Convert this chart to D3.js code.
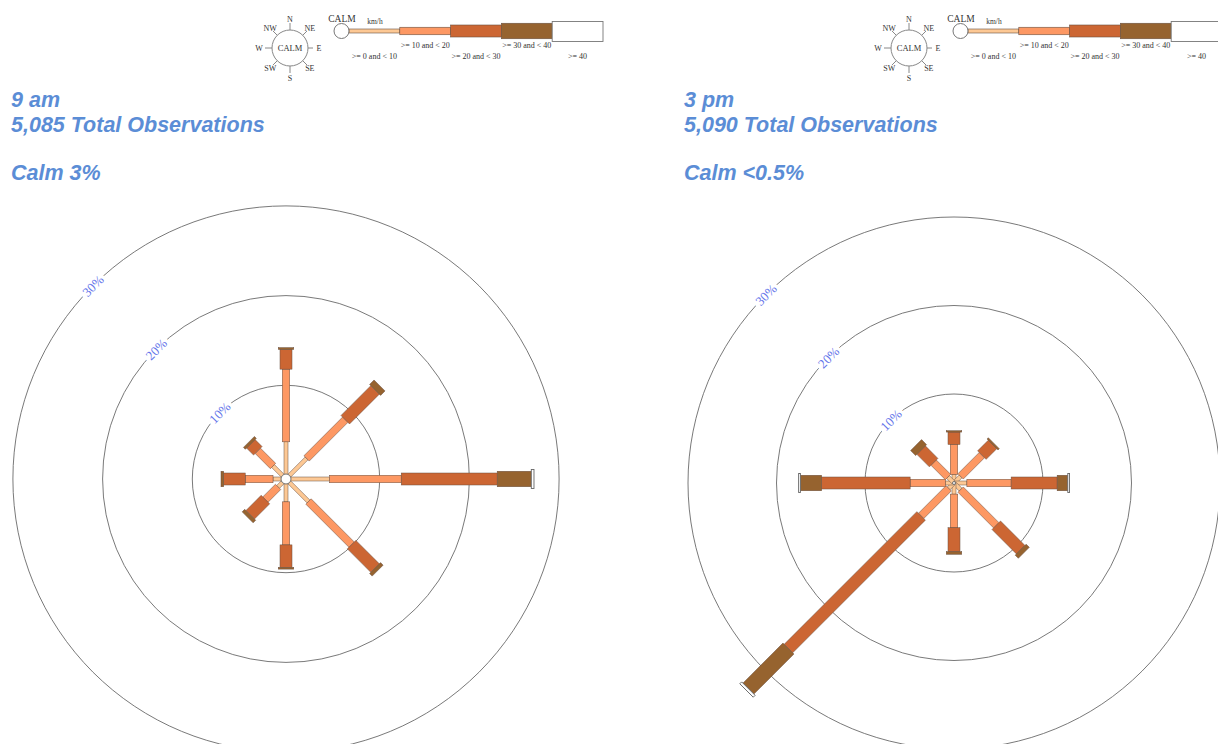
<!DOCTYPE html>
<html>
<head>
<meta charset="utf-8">
<script src="https://cdn.jsdelivr.net/npm/d3@7"></script>
<style>
  html, body { margin: 0; padding: 0; background: #ffffff; }
  svg { display: block; }
</style>
</head>
<body>
<div id="chart"></div>
<script>
// ---------------- DATA ----------------
const directions = ["N", "NE", "E", "SE", "S", "SW", "W", "NW"];
const directionAngles = [0, 45, 90, 135, 180, 225, 270, 315];
const speedBins = [">= 0 and < 10", ">= 10 and < 20", ">= 20 and < 30", ">= 30 and < 40", ">= 40"];
const speedColors = ["#fdc894", "#fd9863", "#cc6633", "#96632f", "#ffffff"];
const ringTicks = [10, 20, 30];
const ringLabels = ["10%", "20%", "30%"];

// 9 am (percent of observations, by direction N..NW)
const am9Speed0to10  = [3.7, 2.8, 4.4, 3.1, 2.1, 0.8, 1.0, 1.6];
const am9Speed10to20 = [8.1, 6.1, 8.0, 6.8, 4.8, 2.0, 3.1, 2.4];
const am9Speed20to30 = [2.2, 4.7, 10.7, 3.7, 2.5, 2.4, 2.4, 1.1];
const am9Speed30to40 = [0.2, 0.7, 3.8, 0.4, 0.2, 0.4, 0.3, 0.3];
const am9Speed40     = [0, 0, 0.3, 0, 0, 0, 0, 0];

// 3 pm
const pm3Speed0to10  = [0.9, 1.0, 1.4, 1.0, 1.2, 0.8, 0.9, 0.9];
const pm3Speed10to20 = [3.4, 3.4, 5.0, 5.7, 3.8, 4.4, 4.0, 2.3];
const pm3Speed20to30 = [1.4, 1.7, 5.2, 3.9, 2.7, 21.2, 10.0, 2.0];
const pm3Speed30to40 = [0.15, 0.2, 1.2, 0.5, 0.3, 6.4, 2.4, 0.8];
const pm3Speed40     = [0, 0, 0.2, 0, 0, 0.3, 0.2, 0];

const panelTitles = ["9 am", "3 pm"];
const panelTotals = ["5,085 Total Observations", "5,090 Total Observations"];
const panelCalm = ["Calm 3%", "Calm <0.5%"];

// ---------------- LAYOUT ----------------
const W = 1218, H = 744;
const svg = d3.select("#chart").append("svg")
  .attr("width", W).attr("height", H)
  .style("background", "#ffffff");

const barWidths = [4, 7.5, 12, 15.5, 19];
const panels = [
  { title: panelTitles[0], total: panelTotals[0], calm: panelCalm[0],
    bins: [am9Speed0to10, am9Speed10to20, am9Speed20to30, am9Speed30to40, am9Speed40],
    cx: 286, cy: 479, r0: 4, k: 8.97, calmR: 5,
    titleX: 11, legendX: 0 },
  { title: panelTitles[1], total: panelTotals[1], calm: panelCalm[1],
    bins: [pm3Speed0to10, pm3Speed10to20, pm3Speed20to30, pm3Speed30to40, pm3Speed40],
    cx: 954, cy: 483, r0: 0.5, k: 8.85, calmR: 1.5,
    titleX: 684, legendX: 619 }
];

const serif = "'Liberation Serif', 'Times New Roman', serif";
const sans = "'Liberation Sans', Arial, sans-serif";

function drawLegend(ox) {
  const g = svg.append("g").attr("transform", `translate(${ox},0)`);
  // compass
  const ccx = 290, ccy = 48, cr = 18;
  g.append("circle").attr("cx", ccx).attr("cy", ccy).attr("r", cr)
    .attr("fill", "#fff").attr("stroke", "#888").attr("stroke-width", 1);
  g.append("text").attr("x", ccx).attr("y", ccy + 3).attr("text-anchor", "middle")
    .attr("font-family", serif).attr("font-size", 8.5).attr("fill", "#333").text("CALM");
  const labelR = [29, 28, 29, 28, 30, 28, 31, 28];
  const tickLen = [7, 6, 5, 6, 7, 6, 7, 6];
  directions.forEach((d, i) => {
    const a = directionAngles[i] * Math.PI / 180;
    const sx = Math.sin(a), sy = -Math.cos(a);
    g.append("line")
      .attr("x1", ccx + sx * cr).attr("y1", ccy + sy * cr)
      .attr("x2", ccx + sx * (cr + tickLen[i])).attr("y2", ccy + sy * (cr + tickLen[i]))
      .attr("stroke", "#888").attr("stroke-width", 1);
    g.append("text")
      .attr("x", ccx + sx * labelR[i]).attr("y", ccy + sy * labelR[i] + 3)
      .attr("text-anchor", "middle")
      .attr("font-family", serif).attr("font-size", 8).attr("fill", "#333").text(d);
  });
  // speed bar
  const bx = d3.scaleLinear().domain([0, 5]).range([349, 603]);
  const by = 31;
  g.append("text").attr("x", 342).attr("y", 22).attr("text-anchor", "middle")
    .attr("font-family", serif).attr("font-size", 9.5).attr("fill", "#333").text("CALM");
  g.append("text").attr("x", 375).attr("y", 24).attr("text-anchor", "middle")
    .attr("font-family", serif).attr("font-size", 7.5).attr("fill", "#333").text("km/h");
  speedBins.forEach((b, i) => {
    g.append("rect")
      .attr("x", bx(i)).attr("y", by - barWidths[i] / 2)
      .attr("width", bx(i + 1) - bx(i)).attr("height", barWidths[i] + (i === 4 ? 1 : 0))
      .attr("fill", speedColors[i]).attr("stroke", i === 4 ? "#777" : "#6a5040")
      .attr("stroke-width", i === 4 ? 0.9 : 0.6);
    g.append("text")
      .attr("x", (bx(i) + bx(i + 1)) / 2)
      .attr("y", i % 2 === 0 ? 59 : 48)
      .attr("text-anchor", "middle")
      .attr("font-family", serif).attr("font-size", 8).attr("fill", "#333").text(b);
  });
  g.append("circle").attr("cx", 341.5).attr("cy", by).attr("r", 7.5)
    .attr("fill", "#fff").attr("stroke", "#777").attr("stroke-width", 1);
}

function drawPanel(p) {
  drawLegend(p.legendX);
  const tg = svg.append("g");
  const tstyle = sel => sel.attr("font-family", sans).attr("font-weight", "bold")
    .attr("font-style", "italic").attr("font-size", 21.5).attr("fill", "#5b8dd6");
  tg.append("text").attr("x", p.titleX).attr("y", 107).text(p.title).call(tstyle);
  tg.append("text").attr("x", p.titleX).attr("y", 132).text(p.total).call(tstyle);
  tg.append("text").attr("x", p.titleX).attr("y", 180).text(p.calm).call(tstyle);

  const r = d3.scaleLinear().domain([0, 30]).range([p.r0, p.r0 + 30 * p.k]);
  const g = svg.append("g").attr("transform", `translate(${p.cx},${p.cy})`);

  // rings
  ringTicks.forEach((t) => {
    g.append("circle").attr("r", r(t)).attr("fill", "none")
      .attr("stroke", "#6a6a6a").attr("stroke-width", 0.9);
  });
  ringTicks.forEach((t, i) => {
    const a = -135 * Math.PI / 180;
    const x = r(t) * Math.cos(a), y = r(t) * Math.sin(a);
    g.append("text")
      .attr("transform", `translate(${x},${y}) rotate(-45)`)
      .attr("text-anchor", "middle").attr("dy", "0.35em")
      .attr("font-family", serif).attr("font-size", 13)
      .attr("fill", "#6474ea")
      .attr("stroke", "#fff").attr("stroke-width", 7)
      .attr("paint-order", "stroke")
      .text(ringLabels[i]);
  });

  // bars
  directions.forEach((d, di) => {
    const dg = g.append("g").attr("transform", `rotate(${directionAngles[di]})`);
    let cum = 0;
    p.bins.forEach((arr, bi) => {
      const v = arr[di];
      if (v > 0) {
        const rs = r(cum), re = r(cum + v);
        dg.append("rect")
          .attr("x", -barWidths[bi] / 2).attr("y", -re)
          .attr("width", barWidths[bi]).attr("height", re - rs)
          .attr("fill", speedColors[bi])
          .attr("stroke", bi === 4 ? "#666" : "#6a5040")
          .attr("stroke-width", bi === 4 ? 0.9 : 0.5);
      }
      cum += v;
    });
  });
  g.append("circle").attr("r", p.calmR).attr("fill", "#fff")
    .attr("stroke", "#666").attr("stroke-width", 0.9);
}

panels.forEach(drawPanel);
</script>
</body>
</html>
